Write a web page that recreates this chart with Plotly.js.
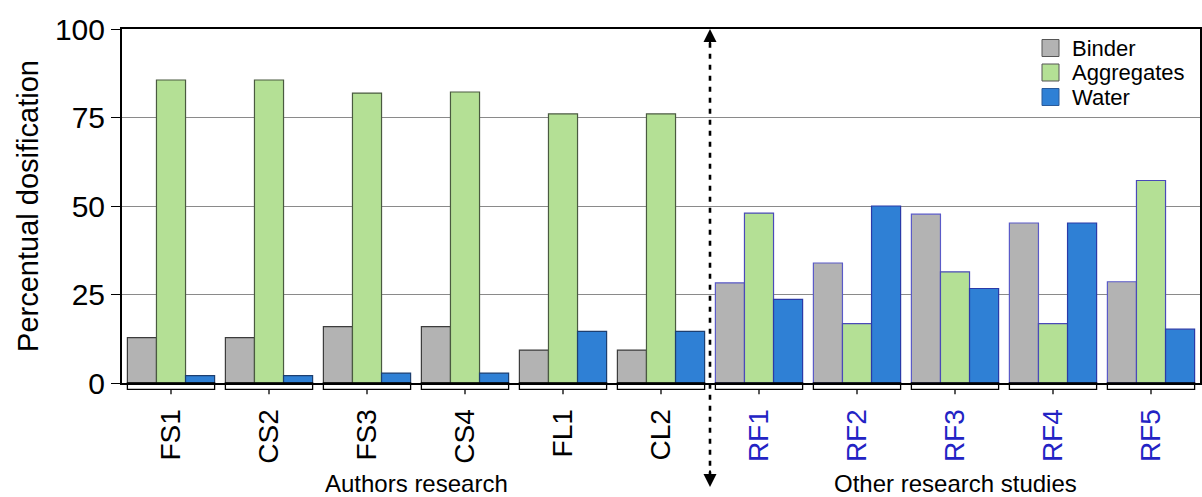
<!DOCTYPE html>
<html>
<head>
<meta charset="utf-8">
<script src="https://cdn.plot.ly/plotly-3.0.1.min.js"></script>
<style>
  html, body { margin: 0; padding: 0; background: #ffffff; }
  #chart { width: 1202px; height: 497px; }
</style>
</head>
<body>
<div id="chart"></div>
<script>
// ---- data ----
const categories = ['FS1', 'CS2', 'FS3', 'CS4', 'FL1', 'CL2', 'RF1', 'RF2', 'RF3', 'RF4', 'RF5'];
const binder     = [12.8, 12.8, 15.9, 15.9, 9.3, 9.3, 28.3, 33.9, 47.7, 45.2, 28.6];
const aggregates = [85.6, 85.6, 81.9, 82.2, 76.0, 76.0, 48.0, 16.8, 31.4, 16.8, 57.2];
const water      = [2.1, 2.1, 2.8, 2.8, 14.6, 14.6, 23.6, 50.0, 26.7, 45.2, 15.2];
const seriesNames = ['Binder', 'Aggregates', 'Water'];
const groupLabels = ['Authors research', 'Other research studies'];
const authorsCount = 6;   // first six categories are the authors' own mixes
const yTicks = [0, 25, 50, 75, 100];

// ---- styling ----
const FONT = '"Liberation Sans", Arial, sans-serif';
const colors = ['#b3b3b3', '#b4e095', '#2f80d5'];
const authorEdge = ['#3c3c3c', '#4a5a40', '#1d3f70'];
const otherEdge = ['#5a5ac8', '#4a4ab8', '#2a3aa8'];
const legendEdge = ['#555555', '#555555', '#2a5a9a'];
const otherLabelColor = '#2323c4';

// plot geometry (pixels) used only to place decorations in paper units
const W = 1202, H = 497, ML = 122, MR = 2, MT = 29, MB = 114;
const PW = W - ML - MR, PH = H - MT - MB;
const px2x = p => (p - ML) / PW;
const py2y = p => (H - MB - p) / PH;

const n = categories.length;
const isOther = categories.map((c, i) => i >= authorsCount);

const seriesVals = [binder, aggregates, water];
const traces = seriesVals.map((vals, s) => ({
  type: 'bar',
  name: seriesNames[s],
  x: categories,
  y: vals,
  showlegend: false,
  marker: {
    color: colors[s],
    line: { color: isOther.map(o => o ? otherEdge[s] : authorEdge[s]), width: 1.2 }
  },
  hoverinfo: 'x+y+name'
}));

const tickText = categories.map((c, i) =>
  isOther[i] ? '<span style="color:' + otherLabelColor + '">' + c + '</span>' : c);

// brackets under each group, derived from category index
const shapes = [];
const bracketDepth = -0.018;
categories.forEach((c, i) => {
  const cx = (i + 0.5) / n;
  const hw = 0.445 / n;
  shapes.push({
    type: 'rect', xref: 'paper', yref: 'paper',
    x0: cx - hw, x1: cx + hw, y0: 0, y1: bracketDepth,
    line: { color: '#000', width: 1.3 }, fillcolor: 'rgba(0,0,0,0)', layer: 'above'
  });
  shapes.push({
    type: 'line', xref: 'paper', yref: 'paper',
    x0: cx, x1: cx, y0: bracketDepth, y1: bracketDepth - 0.014,
    line: { color: '#000', width: 1.3 }, layer: 'above'
  });
});

// dashed divider between the two groups of studies
const divX = authorsCount / n;
shapes.push({
  type: 'line', xref: 'paper', yref: 'paper',
  x0: divX, x1: divX, y0: -0.265, y1: 0.975,
  line: { color: '#000', width: 2.6, dash: '5px,6px' }, layer: 'above'
});

const annotations = [
  { xref: 'paper', yref: 'paper', x: divX, y: 1.0, ax: 0, ay: 18, axref: 'pixel', ayref: 'pixel',
    showarrow: true, arrowhead: 2, arrowsize: 1.3, arrowwidth: 2, arrowcolor: '#000', text: '' },
  { xref: 'paper', yref: 'paper', x: divX, y: -0.294, ax: 0, ay: -18, axref: 'pixel', ayref: 'pixel',
    showarrow: true, arrowhead: 2, arrowsize: 1.3, arrowwidth: 2, arrowcolor: '#000', text: '' },
  { xref: 'paper', yref: 'paper', x: (authorsCount / 2) / n, y: -0.285,
    xanchor: 'center', yanchor: 'middle', showarrow: false,
    text: groupLabels[0], font: { family: FONT, size: 24, color: '#000' } },
  { xref: 'paper', yref: 'paper', x: (authorsCount + (n - authorsCount) / 2) / n, y: -0.285,
    xanchor: 'center', yanchor: 'middle', showarrow: false,
    text: groupLabels[1], font: { family: FONT, size: 24, color: '#000' } }
];

// compact legend (swatches + names), built from the series arrays
const legRowPx = [48, 72.5, 97];
seriesNames.forEach((name, s) => {
  const cy = legRowPx[s];
  shapes.push({
    type: 'rect', xref: 'paper', yref: 'paper',
    x0: px2x(1042), x1: px2x(1059), y0: py2y(cy - 8.5), y1: py2y(cy + 8.5),
    fillcolor: colors[s], line: { color: legendEdge[s], width: 1 }, layer: 'above'
  });
  annotations.push({
    xref: 'paper', yref: 'paper', x: px2x(1070), y: py2y(cy),
    xanchor: 'left', yanchor: 'middle', showarrow: false,
    text: name, font: { family: FONT, size: 22, color: '#000' }
  });
});

const layout = {
  width: W, height: H,
  margin: { l: ML, r: MR, t: MT, b: MB },
  paper_bgcolor: '#ffffff', plot_bgcolor: '#ffffff',
  font: { family: FONT, color: '#000' },
  barmode: 'group',
  bargap: 0.11,
  bargroupgap: 0,
  showlegend: false,
  xaxis: {
    type: 'category',
    range: [-0.5, n - 0.5],
    tickmode: 'array', tickvals: categories, ticktext: tickText,
    tickangle: -90,
    tickfont: { family: FONT, size: 28, color: '#000' },
    ticks: 'outside', ticklen: 13, tickcolor: 'rgba(0,0,0,0)',
    showline: true, linecolor: '#000', linewidth: 2, mirror: true,
    showgrid: false, zeroline: false, fixedrange: true
  },
  yaxis: {
    range: [0, 100],
    tickvals: yTicks,
    ticks: 'outside', ticklen: 9, tickcolor: '#000', tickwidth: 1,
    tickfont: { family: FONT, size: 30, color: '#000' },
    showline: true, linecolor: '#000', linewidth: 2, mirror: true,
    showgrid: true, gridcolor: '#8a8a8a', gridwidth: 1,
    zeroline: false, fixedrange: true,
    title: { text: 'Percentual dosification', font: { family: FONT, size: 29, color: '#000' }, standoff: 8 }
  },
  shapes: shapes,
  annotations: annotations
};

Plotly.newPlot('chart', traces, layout, { displayModeBar: false, staticPlot: true });
</script>
</body>
</html>
